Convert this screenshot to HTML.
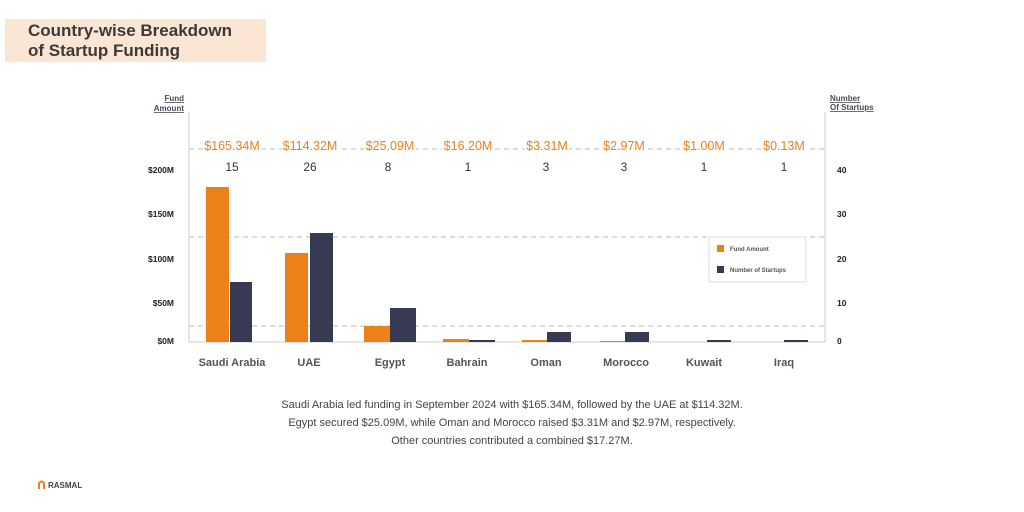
<!DOCTYPE html>
<html><head><style>
body{margin:0;width:1024px;height:512px;background:#fff;font-family:"Liberation Sans",sans-serif;position:relative;overflow:hidden}
.t{position:absolute;left:5px;top:19px;width:261px;height:43px;background:#fbe5d3}
.t div{position:absolute;left:23px;font-size:17px;font-weight:bold;color:#3a3a3a;line-height:20px}
</style></head><body>
<div class="t"><div style="top:2px">Country-wise Breakdown</div><div style="top:22px">of Startup Funding</div></div>
<svg width="1024" height="512" style="position:absolute;left:0;top:0" font-family="Liberation Sans, sans-serif">
<g stroke="#bbb" stroke-dasharray="5,4" stroke-width="1">
<line x1="189" x2="825" y1="149" y2="149"/><line x1="189" x2="825" y1="237" y2="237"/><line x1="189" x2="825" y1="326" y2="326"/>
</g>
<g fill="#fff">
<rect x="203" y="138" width="58" height="14"/><rect x="282" y="138" width="57" height="14"/><rect x="364" y="138" width="52" height="14"/>
<rect x="442" y="138" width="52" height="14"/><rect x="525" y="138" width="44" height="14"/><rect x="602" y="138" width="44" height="14"/>
<rect x="682" y="138" width="44" height="14"/><rect x="762" y="138" width="44" height="14"/>
</g>
<line x1="189" x2="189" y1="112" y2="342" stroke="#ccc"/>
<line x1="825" x2="825" y1="112" y2="342" stroke="#ccc"/>
<line x1="189" x2="825" y1="342" y2="342" stroke="#ccc"/>
<g font-size="8" font-weight="bold" fill="#4a4a5a" text-decoration="underline">
<text x="184" y="101" text-anchor="end">Fund</text><text x="184" y="111" text-anchor="end">Amount</text>
<text x="830" y="101">Number</text><text x="830" y="110">Of Startups</text>
</g>
<g font-size="8.5" font-weight="bold" fill="#222" text-anchor="end">
<text x="174" y="173">$200M</text><text x="174" y="217">$150M</text><text x="174" y="262">$100M</text><text x="174" y="306">$50M</text><text x="174" y="344">$0M</text>
</g>
<g font-size="8.5" font-weight="bold" fill="#222">
<text x="837" y="173">40</text><text x="837" y="217">30</text><text x="837" y="262">20</text><text x="837" y="306">10</text><text x="837" y="344">0</text>
</g>
<g fill="#ec8019">
<rect x="206" y="187" width="23" height="155"/><rect x="285" y="253" width="23" height="89"/><rect x="364" y="326" width="26" height="16"/>
<rect x="443" y="339" width="26" height="3"/><rect x="522" y="340" width="25" height="2"/><rect x="600" y="341" width="25" height="1"/>
</g>
<g fill="#363a52">
<rect x="230" y="282" width="22" height="60"/><rect x="310" y="233" width="23" height="109"/><rect x="390" y="308" width="26" height="34"/>
<rect x="469" y="340" width="26" height="2"/><rect x="547" y="332" width="24" height="10"/><rect x="625" y="332" width="24" height="10"/>
<rect x="707" y="340" width="24" height="2"/><rect x="784" y="340" width="24" height="2"/>
</g>
<g font-size="12.5" fill="#ec8019" text-anchor="middle">
<text x="232" y="150">$165.34M</text><text x="310" y="150">$114.32M</text><text x="390" y="150">$25.09M</text><text x="468" y="150">$16.20M</text>
<text x="547" y="150">$3.31M</text><text x="624" y="150">$2.97M</text><text x="704" y="150">$1.00M</text><text x="784" y="150">$0.13M</text>
</g>
<g font-size="12" fill="#333" text-anchor="middle">
<text x="232" y="171">15</text><text x="310" y="171">26</text><text x="388" y="171">8</text><text x="468" y="171">1</text>
<text x="546" y="171">3</text><text x="624" y="171">3</text><text x="704" y="171">1</text><text x="784" y="171">1</text>
</g>
<g font-size="11" font-weight="bold" fill="#555" text-anchor="middle">
<text x="232" y="366">Saudi Arabia</text><text x="309" y="366">UAE</text><text x="390" y="366">Egypt</text><text x="467" y="366">Bahrain</text>
<text x="546" y="366">Oman</text><text x="626" y="366">Morocco</text><text x="704" y="366">Kuwait</text><text x="784" y="366">Iraq</text>
</g>
<rect x="709" y="237" width="97" height="45" fill="#fff" stroke="#ddd"/>
<rect x="717" y="245" width="7" height="7" fill="#ec8019"/><rect x="717" y="266" width="7" height="7" fill="#363a52"/>
<g font-size="6" font-weight="bold" fill="#555"><text x="730" y="251">Fund Amount</text><text x="730" y="272">Number of Startups</text></g>
<g font-size="11" fill="#444" text-anchor="middle">
<text x="512" y="408">Saudi Arabia led funding in September 2024 with $165.34M, followed by the UAE at $114.32M.</text>
<text x="512" y="426">Egypt secured $25.09M, while Oman and Morocco raised $3.31M and $2.97M, respectively.</text>
<text x="512" y="444">Other countries contributed a combined $17.27M.</text>
</g>
<path d="M38 489v-5a3.5 3.5 0 0 1 7 0v5h-2v-5a1.5 1.5 0 0 0-3 0v5z" fill="#ec8019"/>
<text x="48" y="488" font-size="8" font-weight="bold" fill="#444">RASMAL</text>
</svg>
</body></html>
